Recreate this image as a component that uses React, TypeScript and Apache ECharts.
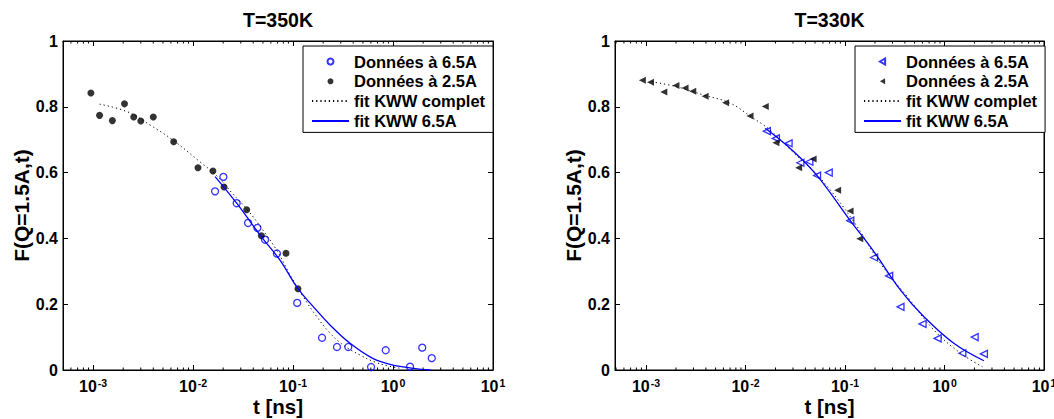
import React, { useEffect, useRef } from 'react';
import * as echarts from 'echarts';

// ---------- T = 350 K ----------
const t350_65 = [0.0166, 0.0201, 0.0273, 0.0355, 0.044, 0.0525, 0.069, 0.11, 0.195, 0.275, 0.357, 0.603, 0.845, 1.48, 1.96, 2.44];
const F350_65 = [0.543, 0.587, 0.507, 0.447, 0.432, 0.396, 0.354, 0.204, 0.098, 0.07, 0.07, 0.009, 0.06, 0.01, 0.068, 0.036];
const t350_25 = [0.00095, 0.00116, 0.00156, 0.00206, 0.00255, 0.003, 0.004, 0.0064, 0.0112, 0.0158, 0.0204, 0.0344, 0.0482, 0.085, 0.112];
const F350_25 = [0.842, 0.774, 0.758, 0.809, 0.769, 0.757, 0.769, 0.694, 0.615, 0.605, 0.556, 0.487, 0.408, 0.355, 0.247];
const t350_fitAll = [0.00116, 0.0022, 0.0037, 0.0064, 0.0117, 0.0173, 0.025, 0.035, 0.05, 0.07, 0.093, 0.125, 0.17, 0.23, 0.32, 0.47, 0.65, 0.9, 1.2];
const F350_fitAll = [0.808, 0.785, 0.745, 0.697, 0.633, 0.59, 0.535, 0.487, 0.425, 0.36, 0.29, 0.225, 0.165, 0.115, 0.075, 0.045, 0.025, 0.012, 0.005];
const t350_fit65 = [0.0166, 0.0273, 0.0487, 0.074, 0.112, 0.16, 0.234, 0.372, 0.62, 0.933, 1.6, 2.38];
const F350_fit65 = [0.588, 0.507, 0.403, 0.334, 0.247, 0.192, 0.137, 0.081, 0.036, 0.017, 0.005, 0.0];

// ---------- T = 330 K ----------
const t330_65 = [0.0164, 0.0202, 0.0271, 0.0356, 0.0438, 0.0524, 0.0686, 0.113, 0.196, 0.278, 0.361, 0.602, 0.853, 1.51, 2.01, 2.49];
const F330_65 = [0.726, 0.704, 0.689, 0.63, 0.633, 0.591, 0.6, 0.454, 0.342, 0.286, 0.192, 0.14, 0.096, 0.051, 0.1, 0.049];
const t330_25 = [0.00092, 0.00111, 0.00151, 0.002, 0.00247, 0.00295, 0.00393, 0.0063, 0.0111, 0.0158, 0.0202, 0.0342, 0.0478, 0.0843, 0.1124, 0.1406];
const F330_25 = [0.881, 0.875, 0.845, 0.865, 0.857, 0.847, 0.832, 0.812, 0.772, 0.801, 0.691, 0.615, 0.641, 0.546, 0.483, 0.399];
const t330_fitAll = [0.00114, 0.00204, 0.00378, 0.007, 0.0116, 0.0177, 0.03, 0.0565, 0.1224, 0.227, 0.422, 0.78, 1.45, 2.4];
const F330_fitAll = [0.876, 0.861, 0.836, 0.811, 0.768, 0.729, 0.662, 0.583, 0.451, 0.324, 0.223, 0.122, 0.051, 0.01];
const t330_fit65 = [0.0158, 0.0293, 0.0524, 0.113, 0.195, 0.361, 0.621, 1.24, 2.49];
const F330_fit65 = [0.735, 0.669, 0.591, 0.454, 0.36, 0.243, 0.162, 0.081, 0.028];

// ---------- axes ----------
const titles = ['T=350K', 'T=330K'];
const legendNames = ['Données à 6.5A', 'Données à 2.5A', 'fit KWW complet', 'fit KWW 6.5A'];
const xMins = [5e-4, 4.88e-4];
const xMax = 10;
const minorMultipliers = [2, 3, 4, 5, 6, 7, 8, 9];
const decades = [1e-4, 1e-3, 1e-2, 1e-1, 1];

const FONT = '"Liberation Sans", Arial, Helvetica, sans-serif';
const BLUE = '#0000ff';

const pairs = (t: number[], f: number[]) => t.map((v, i) => [v, f[i]]);

const grids = [
  { left: 63, top: 41, width: 430, height: 329 },
  { left: 615, top: 41, width: 429, height: 329 },
];

function xAxes(g: number) {
  const base: any = {
    type: 'log',
    logBase: 10,
    gridIndex: g,
    min: xMins[g],
    max: xMax,
    splitLine: { show: false },
    axisLine: { show: true, onZero: false, lineStyle: { color: '#000', width: 1 } },
    axisTick: { show: true, inside: true, length: 5, lineStyle: { color: '#000' } },
  };
  return [
    {
      ...base,
      position: 'bottom',
      name: 't [ns]',
      nameLocation: 'middle',
      nameGap: 28,
      nameMoveOverlap: false,
      nameTextStyle: { fontFamily: FONT, fontWeight: 'bold', fontSize: 20.5, color: '#000', lineHeight: 16 },
      axisLabel: {
        show: true,
        margin: 7,
        color: '#000',
        showMinLabel: true,
        showMaxLabel: true,
        formatter: (v: number) => {
          const l = Math.log10(v);
          const e = Math.round(l);
          if (Math.abs(l - e) > 1e-6) return '';
          return `{b|10}{s|${e}}`;
        },
        rich: {
          b: { fontFamily: FONT, fontWeight: 'bold', fontSize: 16, color: '#000', lineHeight: 17, verticalAlign: 'bottom' },
          s: { fontFamily: FONT, fontWeight: 'bold', fontSize: 10.5, color: '#000', lineHeight: 17, verticalAlign: 'top', padding: [0, 0, 0, 1] },
        },
      },
    },
    { ...base, position: 'top', axisLabel: { show: false } },
  ];
}

function yAxes(g: number) {
  const base: any = {
    type: 'value',
    gridIndex: g,
    min: 0,
    max: 1,
    interval: 0.2,
    splitLine: { show: false },
    axisLine: { show: true, onZero: false, lineStyle: { color: '#000', width: 1 } },
    axisTick: { show: true, inside: true, length: 5, lineStyle: { color: '#000' } },
  };
  return [
    {
      ...base,
      position: 'left',
      name: 'F(Q=1.5A,t)',
      nameLocation: 'middle',
      nameRotate: 90,
      nameGap: 31,
      nameMoveOverlap: false,
      nameTextStyle: { fontFamily: FONT, fontWeight: 'bold', fontSize: 21, color: '#000' },
      axisLabel: { show: true, margin: 5, color: '#000', fontFamily: FONT, fontWeight: 'bold', fontSize: 16 },
    },
    { ...base, position: 'right', axisLabel: { show: false } },
  ];
}

const minorTicks = decades
  .flatMap((d) => minorMultipliers.map((m) => m * d))
  .filter((v) => v > 4.8e-4 && v < 10);

function minorSeries(g: number) {
  return {
    type: 'custom',
    xAxisIndex: g * 2,
    yAxisIndex: g * 2,
    silent: true,
    clip: false,
    z: 5,
    data: minorTicks.filter((v) => v > xMins[g]).map((v) => [v, 0]),
    renderItem: (_p: any, api: any) => {
      const t = api.value(0);
      const b = api.coord([t, 0]);
      const top = api.coord([t, 1]);
      return {
        type: 'group',
        children: [
          { type: 'line', shape: { x1: b[0], y1: b[1], x2: b[0], y2: b[1] - 2.5 }, style: { stroke: '#000', lineWidth: 1 } },
          { type: 'line', shape: { x1: top[0], y1: top[1], x2: top[0], y2: top[1] + 2.5 }, style: { stroke: '#000', lineWidth: 1 } },
        ],
      };
    },
  };
}

const triLeft = 'path://M0,5L8.66,0L8.66,10Z';

function plotSeries(g: number, prefix: string, d: any) {
  const ax = { xAxisIndex: g * 2, yAxisIndex: g * 2 };
  return [
    {
      ...ax,
      type: 'scatter',
      name: prefix + legendNames[0],
      data: d.p65,
      symbol: g === 0 ? 'circle' : triLeft,
      symbolSize: 7,
      itemStyle: { color: 'rgba(255,255,255,0)', borderColor: BLUE, borderWidth: 1.3 },
      z: 3,
    },
    {
      ...ax,
      type: 'scatter',
      name: prefix + legendNames[1],
      data: d.p25,
      symbol: g === 0 ? 'circle' : triLeft,
      symbolSize: 7,
      itemStyle: { color: '#000', borderWidth: 0 },
      z: 3,
    },
    {
      ...ax,
      type: 'line',
      name: prefix + legendNames[2],
      data: d.fitAll,
      symbol: 'none',
      showSymbol: false,
      smooth: 0.4,
      lineStyle: { color: '#000', width: 1, type: [1.2, 3] },
      itemStyle: { color: '#000' },
      z: 4,
    },
    {
      ...ax,
      type: 'line',
      name: prefix + legendNames[3],
      data: d.fit65,
      symbol: 'none',
      showSymbol: false,
      smooth: 0.4,
      lineStyle: { color: BLUE, width: 1.3, type: 'solid' },
      itemStyle: { color: BLUE },
      z: 4,
    },
  ];
}

function legend(prefix: string, left: number) {
  return {
    left,
    top: 46,
    orient: 'vertical',
    backgroundColor: '#fff',
    borderColor: '#000',
    borderWidth: 1,
    borderRadius: 0,
    padding: [7, 8, 3, 8],
    itemGap: 2.8,
    itemWidth: 37,
    itemHeight: 6,
    selectedMode: false,
    data: legendNames.map((n, i) =>
      i < 2
        ? { name: prefix + n }
        : { name: prefix + n, itemStyle: { color: 'rgba(0,0,0,0)', borderWidth: 0, opacity: 0 } }
    ),
    formatter: (name: string) => name.replace(/^R:/, ''),
    textStyle: { fontFamily: FONT, fontWeight: 'bold', fontSize: 16.5, color: '#000', lineHeight: 16.5 },
    z: 10,
  };
}

export default function App() {
  const ref = useRef<HTMLDivElement>(null);
  useEffect(() => {
    const chart = echarts.init(ref.current as HTMLDivElement, null, { renderer: 'svg' });
    const d350 = {
      p65: pairs(t350_65, F350_65),
      p25: pairs(t350_25, F350_25),
      fitAll: pairs(t350_fitAll, F350_fitAll),
      fit65: pairs(t350_fit65, F350_fit65),
    };
    const d330 = {
      p65: pairs(t330_65, F330_65),
      p25: pairs(t330_25, F330_25),
      fitAll: pairs(t330_fitAll, F330_fitAll),
      fit65: pairs(t330_fit65, F330_fit65),
    };
    const option: any = {
      animation: false,
      backgroundColor: '#fff',
      grid: grids.map((g) => ({ ...g, show: true, borderColor: '#000', borderWidth: 1, backgroundColor: '#fff', containLabel: false, outerBoundsMode: 'none' })),
      xAxis: [...xAxes(0), ...xAxes(1)],
      yAxis: [...yAxes(0), ...yAxes(1)],
      legend: [legend('', 303), legend('R:', 855)],
      graphic: titles.map((t, i) => ({
        type: 'text',
        x: grids[i].left + grids[i].width / 2,
        y: 20,
        style: {
          text: t,
          align: 'center',
          verticalAlign: 'middle',
          fontFamily: FONT,
          fontWeight: 'bold',
          fontSize: 19.5,
          fill: '#000',
        },
      })),
      series: [
        ...plotSeries(0, '', d350),
        ...plotSeries(1, 'R:', d330),
        minorSeries(0),
        minorSeries(1),
      ],
    };
    chart.setOption(option);
    return () => chart.dispose();
  }, []);
  return <div ref={ref} style={{ position: 'fixed', left: 0, top: 0, width: 1054, height: 419 }} />;
}
